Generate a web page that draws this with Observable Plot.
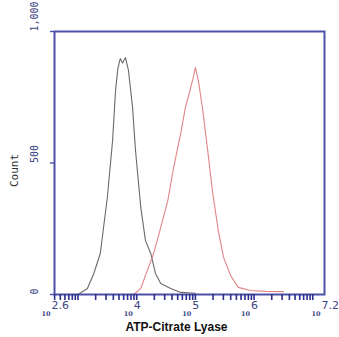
<!DOCTYPE html>
<html><head><meta charset="utf-8">
<script src="https://cdn.jsdelivr.net/npm/d3@7"></script>
<script src="https://cdn.jsdelivr.net/npm/@observablehq/plot@0.6"></script>
<style>body{margin:0;background:#fff}</style>
</head><body><div id="chart"></div>
<script>
// log10 fluorescence (bin centre) and counts
const controlLog =   [3.00,3.16,3.27,3.38,3.50,3.59,3.64,3.68,3.72,3.76,3.81,3.86,3.93,3.98,4.07,4.15,4.24,4.32,4.41,4.58,4.75,5.00];
const controlCount = [0,   23,  80,  156, 369, 586, 776, 860, 897, 880, 901, 852, 711, 548, 331, 205, 156, 80,  42,  23,  8,   5];
const atpLog =   [3.95,4.07,4.18,4.29,4.41,4.53,4.63,4.75,4.83,4.92,4.97,5.00,5.05,5.12,5.21,5.29,5.39,5.48,5.60,5.73,5.94,6.20,6.50];
const atpCount = [0,   23,  91,  156, 255, 357, 483, 612, 711, 787, 830, 863, 814, 711, 548, 395, 243, 141, 72,  27,  15,  12,  11];
const xDomain = [2.6, 7.2];
const xLabelPos = [2.6, 4, 5, 6, 7.2];
const xLabelExp = ["2.6", "4", "5", "6", "7.2"];
const yTicks = [0, 500, 1000];
const yTickLabels = ["0", "500", "1,000"];

const control = controlLog.map((v,i)=>({lx:v, n:controlCount[i]}));
const atp = atpLog.map((v,i)=>({lx:v, n:atpCount[i]}));
// log ticks (positions of k*10^n within the domain)
const logTicks = [];
for (let e = 2; e <= 7; e++) for (let k = 1; k <= 9; k++) {
  const t = Math.log10(k) + e;
  if (t >= xDomain[0] - 1e-9 && t <= xDomain[1] + 1e-9) logTicks.push(t);
}
const blue = "#4c50a8";
const labelCol = "#3d4585";

const chart = Plot.plot({
  width: 339, height: 337,
  marginLeft: 54, marginRight: 15, marginTop: 31, marginBottom: 43,
  style: {background: "#fff"},
  x: {domain: xDomain, axis: null, label: null},
  y: {domain: [0, 1000], axis: null, label: null},
  marks: [
    Plot.line(control, {x: "lx", y: "n", stroke: "#6a6a6a", strokeWidth: 1.1}),
    Plot.line(atp, {x: "lx", y: "n", stroke: "#e08585", strokeWidth: 1.1}),
    Plot.frame({stroke: blue, strokeWidth: 2}),
    Plot.axisX({ticks: logTicks, tickSize: 6, tickFormat: () => "", label: null, stroke: "#2c2f8a", strokeWidth: 1.6, tickPadding: 0}),
    Plot.axisY({ticks: yTicks, tickSize: 4, tickFormat: () => "", label: null, stroke: blue, strokeWidth: 1.4}),
    Plot.text(yTicks, {y: d => d, text: (d,i) => yTickLabels[i], frameAnchor: "left", dx: -20, rotate: -90,
      fill: labelCol, fontFamily: "DejaVu Sans Mono", fontSize: 10}),
    Plot.text(["Count"], {frameAnchor: "left", dx: -40, dy: 24, rotate: -90, text: d => d,
      fill: "#333", fontFamily: "DejaVu Sans Mono", fontSize: 11}),
    Plot.text(xLabelPos, {x: d => d, text: () => "10", frameAnchor: "bottom", dy: 21, dx: -4, textAnchor: "end",
      fill: labelCol, fontFamily: "DejaVu Serif", fontSize: 6.5, fontWeight: "bold"}),
    Plot.text(xLabelPos, {x: d => d, text: (d,i) => xLabelExp[i], frameAnchor: "bottom", dy: 14, dx: -3, textAnchor: "start",
      fill: labelCol, fontFamily: "DejaVu Sans", fontSize: 11}),
    Plot.text(["ATP-Citrate Lyase"], {frameAnchor: "bottom", dy: 36, dx: -13, text: d => d,
      fill: "#111", fontFamily: "Liberation Sans", fontSize: 12, fontWeight: "bold"})
  ]
});
document.getElementById("chart").append(chart);
</script>
</body></html>
